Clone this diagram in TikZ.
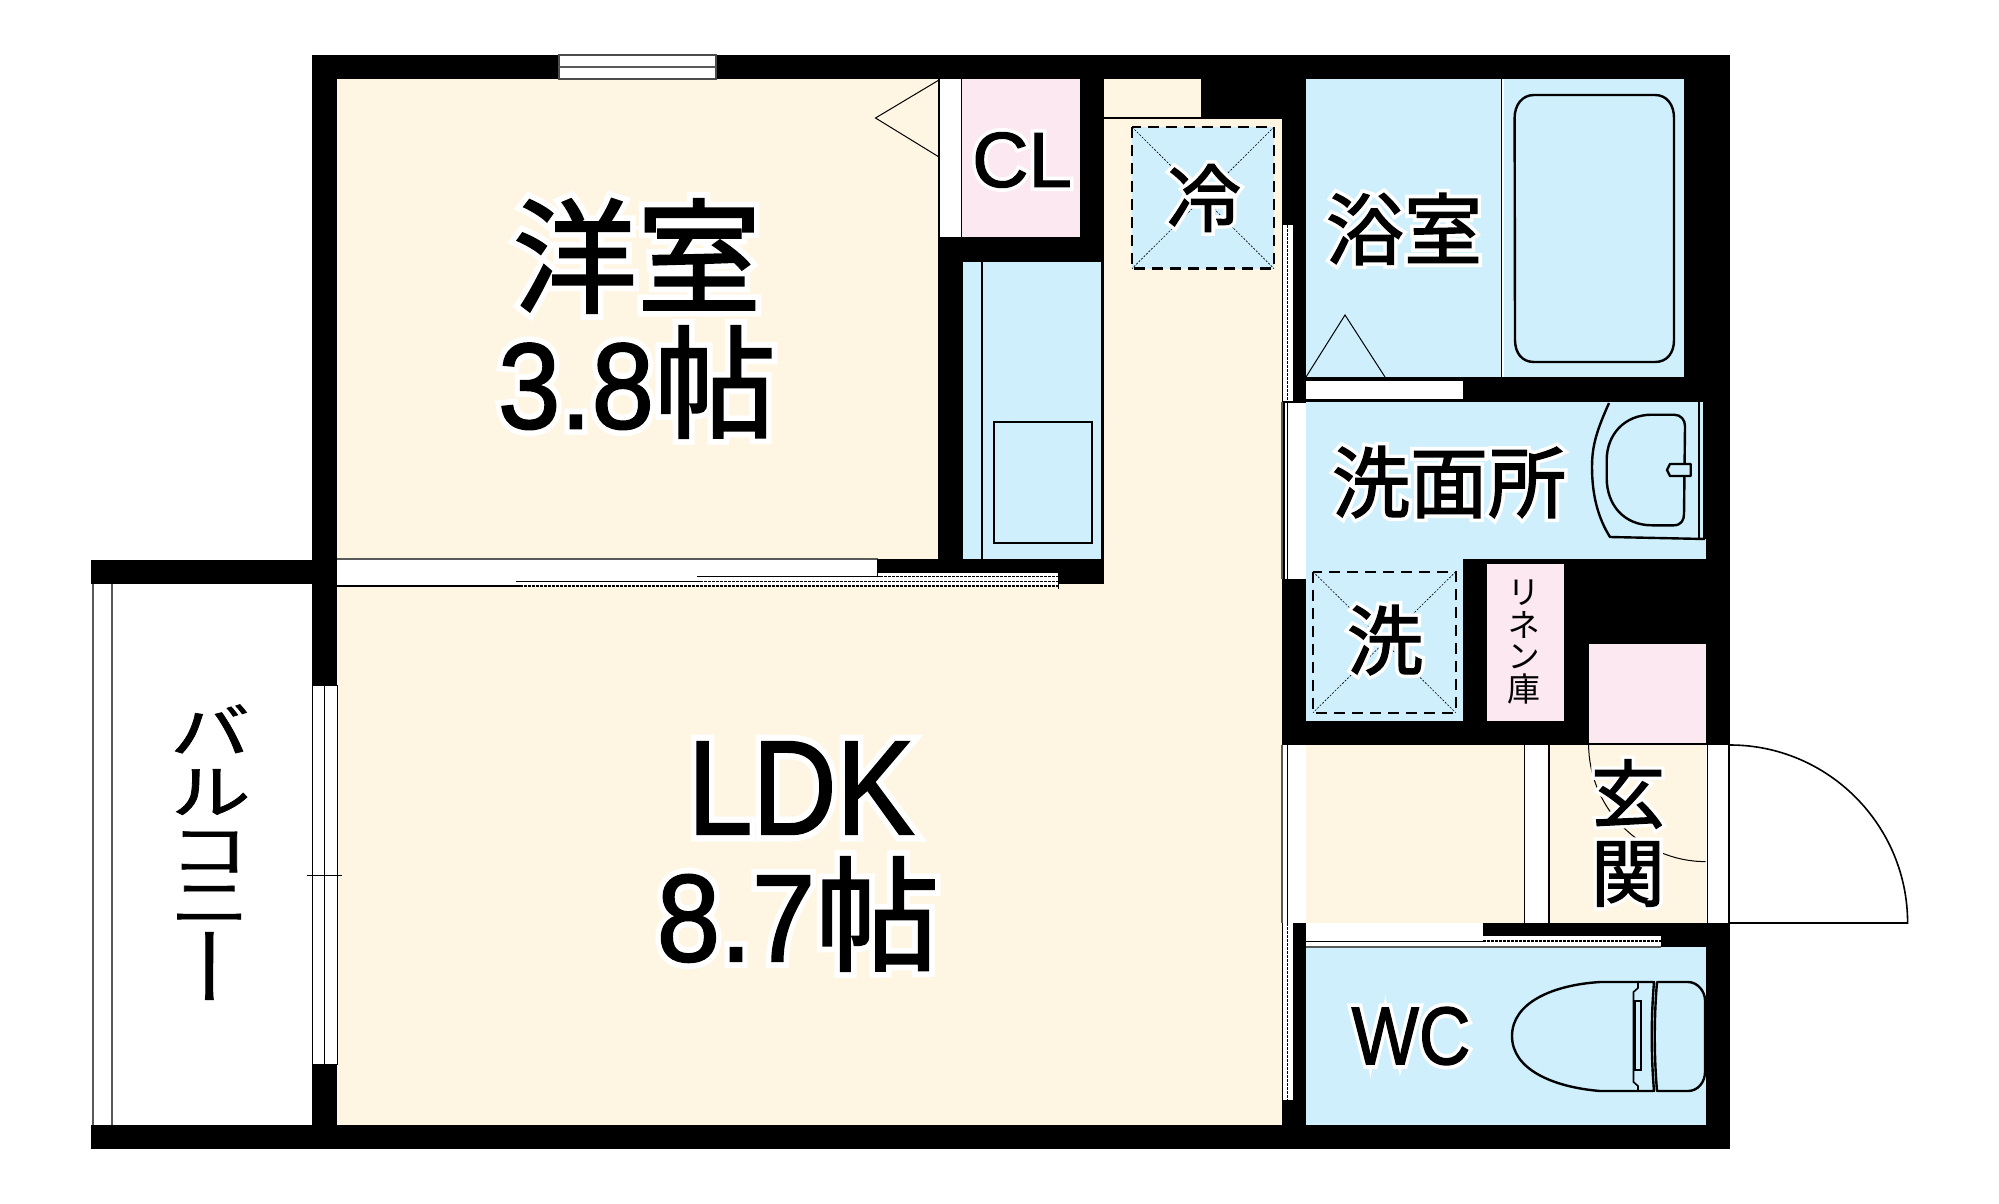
\documentclass[tikz,border=0pt]{standalone}
\usepackage{graphicx}
\usepackage{fontspec}
\setmainfont[FakeBold=1.6]{Liberation Sans}
\newfontfamily\jp[FakeBold=1.8]{Noto Sans CJK JP}
\newfontfamily\lath[FakeBold=11]{Liberation Sans}
\newfontfamily\jph[FakeBold=11]{Noto Sans CJK JP}
\newfontfamily\jpv[RawFeature=+vert]{Noto Sans CJK JP}
\definecolor{cream}{HTML}{FEF6E2}
\definecolor{bluec}{HTML}{CFEFFC}
\definecolor{pinkc}{HTML}{FBE8F0}
\newcommand{\fsz}[1]{\fontsize{#1}{#1}\selectfont}
% label text over one white emboldened copy of itself
\newcommand{\halojp}[1]{\leavevmode\rlap{\color{white}\jph #1}{\jp #1}}
\newcommand{\halolat}[1]{\leavevmode\rlap{\color{white}\lath #1}#1}
\tikzset{
 wall/.style={fill=black,draw=none},
 creamr/.style={fill=cream,draw=none},
 bluer/.style={fill=bluec,draw=none},
 pinkr/.style={fill=pinkc,draw=none},
 whiter/.style={fill=white,draw=none},
 thinl/.style={draw=black,line width=1pt},
 midl/.style={draw=black,line width=1.6pt},
 grayl/.style={draw=black!65,line width=1.2pt},
 fixt/.style={draw=black,line width=2.4pt,line join=round},
 dashbox/.style={draw=black,line width=2.4pt,dash pattern=on 11pt off 7pt,fill=bluec},
 diag/.style={draw=black,line width=.6pt,dash pattern=on 2pt off 1.5pt},
 dashl/.style={draw=black,line width=1.2pt,dash pattern=on 2.5pt off 1.5pt},
 lab/.style={inner sep=0pt,anchor=center},
}
\begin{document}
\begin{tikzpicture}[x=1pt,y=-1pt]
\useasboundingbox (0,0) rectangle (1999,1204);
\fill[white] (0,0) rectangle (1999,1204);
% walls
\path[wall] (312,55) rectangle (1730,1149);
\path[wall] (91,560) rectangle (312,584);
\path[wall] (91,1125) rectangle (312,1149);
% balcony rails
\path[grayl] (93,584) -- (93,1125);
\path[grayl] (112,584) -- (112,1125);
% cream rooms
\path[creamr] (337,79) rectangle (938,559);
\path[creamr] (337,585) rectangle (1282,1125);
\path[creamr] (1104,119) rectangle (1282,585);
\path[creamr] (1104,79) rectangle (1201,117.5);
\path[thinl] (1104,118) -- (1201,118);
\path[creamr] (1058,584) rectangle (1104,590);
% top window
\path[whiter,draw=black!70,line width=1.2pt] (559,55) rectangle (716,79);
\path[grayl,line width=1.6pt] (559,67) -- (716,67);
% closet door
\path[thinl] (939,80) -- (875.5,118) -- (939,157);
\path[whiter] (940,79) rectangle (961,237);
\path[pinkr] (962,79) rectangle (1080,237);
% kitchen
\path[bluer] (963,261.5) rectangle (1101,559);
\path[midl] (982,261.5) -- (982,559);
\path[fill=bluec,draw=black,line width=1.2pt] (994,422) rectangle (1092,543);
% sliding door band
\path[whiter] (337,559) rectangle (877.6,586);
\path[whiter] (877.6,572) rectangle (1058,586);
\path[grayl] (337,559) -- (877.6,559);
\path[thinl] (877.6,572) -- (1058,572);
\path[thinl] (877.6,559) -- (877.6,576);
\path[thinl] (697,576.7) -- (880,576.7);
\path[dashl] (880,576.7) -- (1058,576.7);
\path[thinl] (516,581.3) -- (700,581.3);
\path[dashl] (700,581.3) -- (1058,581.3);
\path[midl] (337,586) -- (520,586);
\path[dashl] (520,586) -- (1058,586);
\path[thinl] (1058,572) -- (1058,589);
% left window
\path[whiter,draw=black,line width=1pt] (312,685) rectangle (337,1064);
\path[thinl] (324.7,685) -- (324.7,1064);
\path[thinl] (307,875) -- (342,875);
% fridge
\path[dashbox] (1132,127) rectangle (1274,268.6);
\path[diag] (1132,127) -- (1274,268.6);
\path[diag] (1274,127) -- (1132,268.6);
% corridor side strip upper
\path[whiter] (1282,225) rectangle (1293.6,401);
\path[dashl] (1287.4,225) -- (1287.4,401);
\path[thinl] (1282.5,225) -- (1282.5,401);
\path[thinl] (1293,225) -- (1293,401);
% bath
\path[bluer] (1306,79) rectangle (1501,377);
\path[whiter] (1501,79) rectangle (1504,377);
\path[thinl,line width=1.4pt] (1501.5,79) -- (1501.5,377);
\path[bluer] (1504,79) rectangle (1684,377);
\path[fixt] (1534,95) -- (1655,95) .. controls (1667,95) and (1674,105) .. (1674,118) -- (1674,340) .. controls (1674,353) and (1667,362) .. (1655,362) -- (1534,362) .. controls (1522,362) and (1515,353) .. (1515,340) -- (1514.6,118) .. controls (1514.6,105) and (1522,95) .. (1534,95) -- cycle;
\path[thinl] (1306,377) -- (1345,315) -- (1385,377);
\path[thinl] (1306,377) -- (1684,377);
\path[whiter] (1306,381) rectangle (1463.3,399);
% washroom
\path[bluer] (1306,402) rectangle (1704,539);
\path[bluer] (1306,539) rectangle (1706,559);
\path[bluer] (1306,559) rectangle (1463.3,721);
\path[whiter] (1284.5,402) rectangle (1306,579);
\path[thinl] (1282,402) -- (1306,402);
\path[thinl] (1287,402) -- (1287,579);
\path[grayl] (1282,402) -- (1282,579);
% sink
\path[fixt] (1609,403) .. controls (1597,430) and (1592,445) .. (1592,467) .. controls (1592,495) and (1598,518) .. (1610,537) -- (1705,539);
\path[thinl,line width=1.6pt] (1698.7,402) -- (1698.7,539);
\path[thinl,line width=1.4pt] (1704,402) -- (1704,539);
\path[fixt] (1652,414.7) -- (1674,414.7) .. controls (1681,414.7) and (1685,420) .. (1685,426) -- (1684,514) .. controls (1684,520) and (1681,525.3) .. (1674,525.3) -- (1652,525.3) .. controls (1624,525.3) and (1606.7,505) .. (1606.7,478) -- (1606.7,460) .. controls (1606.7,435) and (1624,414.7) .. (1652,414.7) -- cycle;
\path[fixt,fill=bluec] (1667,470) -- (1670,464) -- (1690.7,464) -- (1690.7,476) -- (1670,476) -- cycle;
% washer
\path[dashbox] (1313,571.7) rectangle (1455.7,712.7);
\path[diag] (1313,571.7) -- (1455.7,712.7);
\path[diag] (1455.7,571.7) -- (1313,712.7);
% linen
\path[pinkr] (1487.3,564) rectangle (1564,721);
% entry storage
\path[pinkr] (1588.6,644) rectangle (1705.6,743);
% corridor to entry
\path[whiter] (1282,745) rectangle (1306,923);
\path[thinl] (1287.7,745) -- (1287.7,923);
\path[grayl] (1282,745) -- (1282,923);
\path[creamr] (1306,745) rectangle (1524,923);
\path[whiter] (1524,745) rectangle (1548.6,923);
\path[thinl,line width=1.4pt] (1524.5,745) -- (1524.5,923);
\path[thinl,line width=1.4pt] (1548.6,745) -- (1548.6,923);
\path[creamr] (1549.5,745) rectangle (1705.6,923);
\path[thinl,line width=1.6pt] (1588.6,744) -- (1706,744);
\path[thinl] (1588.6,744) .. controls (1588.6,808) and (1641,861.6) .. (1705.6,861.6);
% entry door
\path[whiter] (1706,745) rectangle (1730,923);
\path[midl] (1707.5,745) -- (1707.5,923);
\path[midl] (1729,745) -- (1729,923);
\path[midl] (1730,745) .. controls (1828,745) and (1907.6,825) .. (1907.6,923) -- (1730,923);
% WC
\path[bluer] (1306,947) rectangle (1705.6,1125);
\path[whiter] (1306,923) rectangle (1483,947);
\path[whiter] (1483,936) rectangle (1660.6,947);
\path[thinl] (1306,941) -- (1483,941);
\path[dashl] (1483,941) -- (1660.6,941);
\path[grayl] (1306,947) -- (1660.6,947);
\path[whiter] (1282,923) rectangle (1293,1100);
\path[dashl] (1287.7,923) -- (1287.7,1100);
\path[thinl] (1282.5,923) -- (1282.5,1100);
\path[thinl] (1293,923) -- (1293,1100);
% toilet
\path[fixt] (1654,982) -- (1600,982) .. controls (1552,985) and (1512,1003) .. (1512,1036) .. controls (1512,1069) and (1552,1087) .. (1600,1091) -- (1654,1091) .. controls (1651,1055) and (1651,1018) .. (1654,982) -- cycle;
\path[fixt] (1657,982) -- (1688,982) .. controls (1698,982) and (1705,992) .. (1705,1000) -- (1705,1072) .. controls (1705,1082) and (1698,1091) .. (1688,1091) -- (1657,1091) .. controls (1654,1055) and (1654,1018) .. (1657,982) -- cycle;
\path[thinl,line width=1.6pt] (1638,982) -- (1638,988) -- (1633.5,992) -- (1633.5,1082) -- (1638,1086) -- (1638,1091);
\path[thinl,line width=1.6pt] (1635,1001) rectangle (1641,1070);
% labels
\node[lab,font=\fsz{124}] (yoshitsu) at (637,256) {\halojp{洋室}};
\node[lab,font=\fsz{122}] (jo1) at (637,382) {\halolat{\scalebox{.92}[1]{3.8}}\halojp{帖}};
\node[lab,font=\fsz{134}] (ldk) at (801,788) {\scalebox{.87}[1]{\halolat{LDK}}};
\node[lab,font=\fsz{124}] (jo2) at (798,914) {\halolat{\scalebox{.92}[1]{8.7}}\halojp{帖}};
\node[lab,font=\fsz{78}] (cl) at (1022,160) {\halolat{CL}};
\node[lab,font=\fsz{74}] (rei) at (1204,198) {\halojp{冷}};
\node[lab,font=\fsz{78}] (yoku) at (1404,229) {\halojp{浴室}};
\node[lab,font=\fsz{78}] (senmen) at (1449,482) {\halojp{洗面所}};
\node[lab,font=\fsz{76}] (sen) at (1385,640) {\halojp{洗}};
\node[lab,font=\fsz{74}] (gen) at (1628,794) {\halojp{玄}};
\node[lab,font=\fsz{74}] (kan) at (1628,874) {\halojp{関}};
\node[lab,font=\fsz{82}] (wc) at (1411,1036) {\scalebox{.87}[1]{\halolat{WC}}};
\node[lab,font=\jpv\fsz{33}] (r1) at (1524,593) {リ};
\node[lab,font=\jpv\fsz{33}] (r2) at (1524,625) {ネ};
\node[lab,font=\jpv\fsz{33}] (r3) at (1524,657) {ン};
\node[lab,font=\jpv\fsz{33}] (r4) at (1524,689) {庫};
\node[lab,font=\jpv\fsz{82}] (b1) at (210,729) {\scalebox{1}[.74]{\addfontfeature{FakeBold=1}バ}};
\node[lab,font=\jpv\fsz{82}] (b2) at (210,792) {\scalebox{1}[.74]{\addfontfeature{FakeBold=1}ル}};
\node[lab,font=\jpv\fsz{82}] (b3) at (210,852) {\scalebox{1}[.74]{\addfontfeature{FakeBold=1}コ}};
\node[lab,font=\jpv\fsz{82}] (b4) at (210,905) {\scalebox{1}[.74]{\addfontfeature{FakeBold=1}ニ}};
\node[lab,font=\jpv\fsz{82}] (b5) at (210,966) {\scalebox{1}[1.05]{\addfontfeature{FakeBold=1}ー}};
\end{tikzpicture}
\end{document}
